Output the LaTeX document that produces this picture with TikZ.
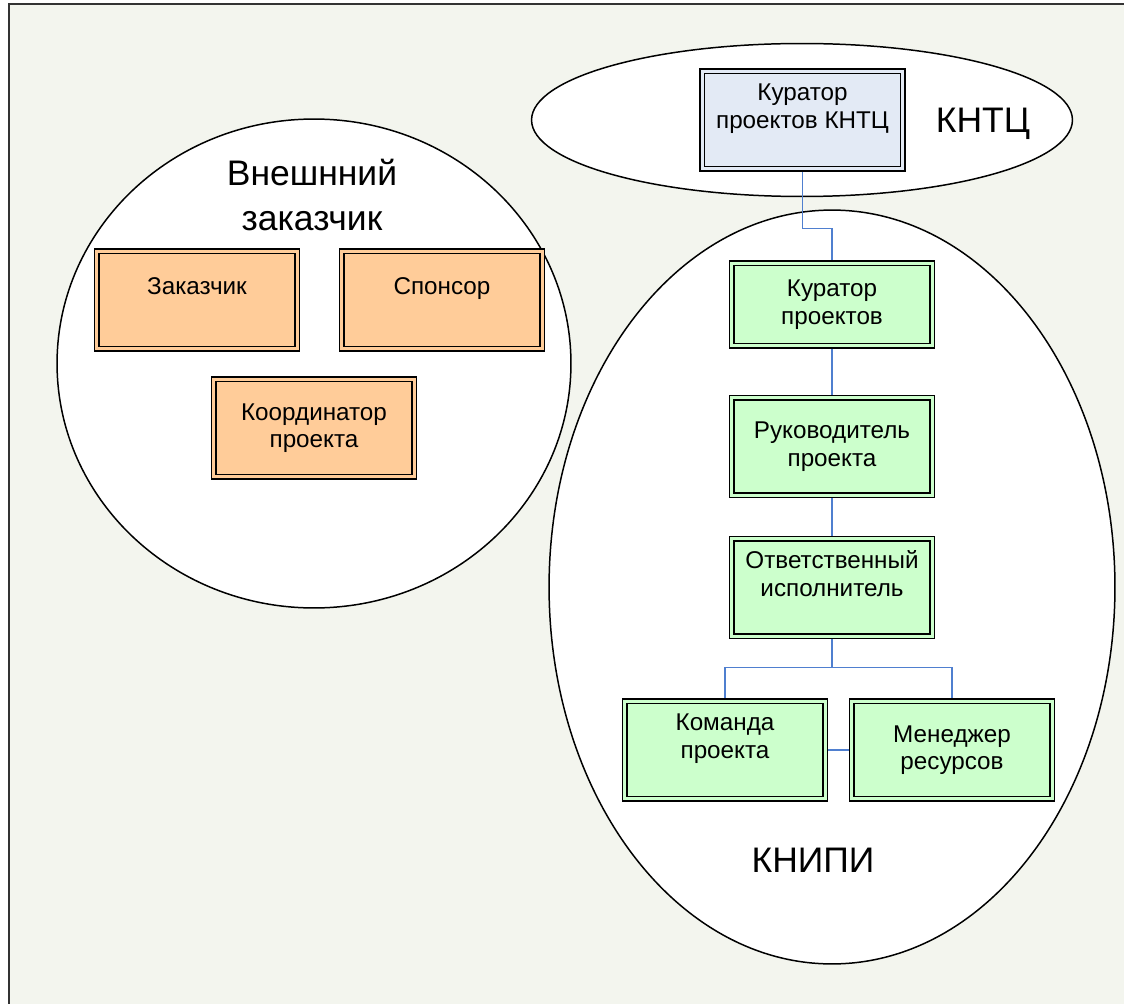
\documentclass[tikz,border=0pt]{standalone}
\usepackage{fontspec}
\setmainfont{Liberation Sans}
\usepackage{xcolor}
\usepackage{tikz}
\usetikzlibrary{calc}

\definecolor{fonpole}{HTML}{F3F5EE}
\definecolor{oranzh}{HTML}{FFCC99}
\definecolor{zelen}{HTML}{CCFFCC}
\definecolor{goluboj}{HTML}{E3EAF5}
\definecolor{svyaz}{HTML}{4F7FCF}

\begin{document}
\begin{tikzpicture}[x=0.02cm, y=-0.02cm,
	box/.style={draw=black, line width=0.9pt, double distance=1.8pt, outer sep=1.8pt,
		inner sep=0pt, minimum width=4.01cm, minimum height=1.95cm, align=center,
		font=\fontsize{13.8}{15.7}\selectfont},
	zakbox/.style={box, fill=oranzh, double=oranzh},
	knipibox/.style={box, fill=zelen, double=zelen},
	kntcbox/.style={box, fill=goluboj, double=goluboj},
	zona/.style={draw=black, line width=0.85pt, fill=white},
	bigtxt/.style={align=center, inner sep=0pt, font=\fontsize{20.2}{25.5}\selectfont},
	link/.style={draw=svyaz, line width=0.6pt}]

	\useasboundingbox (0,0) rectangle (1124,1003);
	\fill[white] (0,0) rectangle (1124,1003);
	\draw[line width=1.2pt, draw=black!80, fill=fonpole] (9,4) rectangle (1140,1020);

	% zones
	\draw[zona] (314,363.5) ellipse [x radius=5.14cm, y radius=4.89cm];
	\draw[zona] (802,120) ellipse [x radius=5.41cm, y radius=1.53cm];
	\draw[zona] (832,587) ellipse [x radius=5.66cm, y radius=7.54cm];

	\node[bigtxt] (vneshn) at (312,195) {Внешнний\\заказчик};
	\node[bigtxt] (kntclbl) at (983,124) {КНТЦ};
	\node[bigtxt] (knipilbl) at (813,860) {КНИПИ};

	% external customer
	\node[zakbox] (zakazchik) at (197,300) {Заказчик\\~};
	\node[zakbox] (sponsor) at (442,300) {Спонсор\\~};
	\node[zakbox] (koord) at (314,428) {Координатор\\проекта};

	% KNTC and KNIPI
	\node[kntcbox] (kntc) at (802.5,120) {Куратор\\проектов КНТЦ\\~};
	\node[knipibox, minimum height=1.65cm] (kurator) at (832,304.5) {Куратор\\проектов};
	\node[knipibox] (ruk) at (832,446.5) {Руководитель\\проекта};
	\node[knipibox] (otv) at (832,587.5) {Ответственный\\исполнитель\\~};
	\node[knipibox] (komanda) at (725,750) {Команда\\проекта\\~};
	\node[knipibox] (menedzher) at (952,750) {Менеджер\\ресурсов};

	% links
	\draw[link] (kntc.south) |- ($(kurator.north)+(0,-32)$) -| (kurator.north);
	\draw[link] (kurator.south) -- (ruk.north);
	\draw[link] (ruk.south) -- (otv.north);
	\coordinate (razvilka) at ($(otv.south)+(0,28)$);
	\draw[link] (otv.south) -- (razvilka) -| (komanda.north);
	\draw[link] (razvilka) -| (menedzher.north);
	\draw[link] (komanda.east) -- (menedzher.west);

\end{tikzpicture}
\end{document}
